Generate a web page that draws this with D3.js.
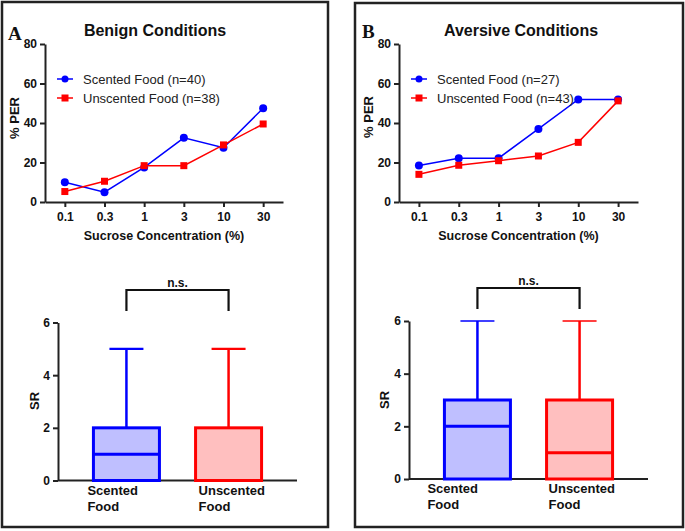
<!DOCTYPE html>
<html><head><meta charset="utf-8">
<script src="https://cdn.jsdelivr.net/npm/d3@7"></script>
<style>body{margin:0;background:#fff}svg{display:block}</style>
</head><body>
<script>
// ---------- DATA ----------
const concentrations = ["0.1","0.3","1","3","10","30"];
const benignScented   = [10, 5, 17.5, 32.5, 27.5, 47.5];
const benignUnscented = [5.3, 10.5, 18.4, 18.4, 28.9, 39.5];
const aversiveScented   = [18.5, 22.2, 22.2, 37.0, 51.9, 51.9];
const aversiveUnscented = [14.0, 18.6, 20.9, 23.3, 30.2, 51.2];
const perTicks = [0, 20, 40, 60, 80];
const srTicks = [0, 2, 4, 6];
const groups = ["Scented Food", "Unscented Food"];
const benignLegend = ["Scented Food (n=40)", "Unscented Food (n=38)"];
const aversiveLegend = ["Scented Food (n=27)", "Unscented Food (n=43)"];
// box stats: [min, q1, median, q3, max]
const benignBoxScented   = [0, 0, 1, 2, 5];
const benignBoxUnscented = [0, 0, 0, 2, 5];
const aversiveBoxScented   = [0, 0, 2, 3, 6];
const aversiveBoxUnscented = [0, 0, 1, 3, 6];

const BLUE = "#0000ff", RED = "#ff0000", INK = "#222";
const FILL = ["#bfbfff", "#ffbfbf"];
const svg = d3.select("body").append("svg").attr("width", 685).attr("height", 531);
const SANS = "'Liberation Sans', Arial, sans-serif";

function panel(cfg) {
  const g = svg.append("g");
  // frame
  g.append("rect").attr("x", cfg.frame[0]).attr("y", cfg.frame[1])
    .attr("width", cfg.frame[2]).attr("height", cfg.frame[3])
    .attr("fill", "none").attr("stroke", INK).attr("stroke-width", 2.5);
  // letter
  g.append("text").attr("x", cfg.letter[0]).attr("y", cfg.letter[1]).text(cfg.letterText)
    .attr("font-family", "'Liberation Serif', 'Times New Roman', serif").attr("font-weight", "bold")
    .attr("font-size", 19).attr("fill", "#111");
  // title
  g.append("text").attr("x", cfg.title[0]).attr("y", cfg.title[1]).text(cfg.titleText)
    .attr("text-anchor", "middle").attr("font-family", SANS).attr("font-weight", "bold")
    .attr("font-size", 16).attr("fill", "#111");

  // ---- line chart ----
  const x = d3.scalePoint().domain(concentrations).range(cfg.lx).padding(0.5);
  const y = d3.scaleLinear().domain([0, 80]).range(cfg.ly);
  const ya = g.append("g").attr("transform", `translate(${cfg.lx[0]},0)`)
    .call(d3.axisLeft(y).tickValues(perTicks).tickFormat(d3.format("d")).tickSize(5).tickPadding(3).tickSizeOuter(0));
  const xa = g.append("g").attr("transform", `translate(0,${cfg.ly[0]})`)
    .call(d3.axisBottom(x).tickSize(5).tickPadding(5).tickSizeOuter(0));
  [ya, xa].forEach(a => {
    a.select(".domain").attr("stroke", INK).attr("stroke-width", 2);
    a.selectAll(".tick line").attr("stroke", INK).attr("stroke-width", 2);
    a.selectAll("text").attr("font-family", SANS).attr("font-weight", "bold")
      .attr("font-size", 12).attr("fill", "#111");
  });
  g.append("text").attr("transform", `translate(${cfg.perLabel[0]},${cfg.perLabel[1]}) rotate(-90)`)
    .attr("text-anchor", "middle").attr("dy", "0.35em").text("% PER")
    .attr("font-family", SANS).attr("font-weight", "bold").attr("font-size", 13).attr("fill", "#111");
  g.append("text").attr("x", (cfg.lx[0] + cfg.lx[1]) / 2).attr("y", cfg.ly[0] + 38)
    .attr("text-anchor", "middle").text("Sucrose Concentration (%)")
    .attr("font-family", SANS).attr("font-weight", "bold").attr("font-size", 12.5).attr("fill", "#111");

  const line = d3.line().x((d, i) => x(concentrations[i])).y(d => y(d));
  const series = [[cfg.scented, BLUE, "circle"], [cfg.unscented, RED, "square"]];
  series.forEach(([vals, col, shape]) => {
    g.append("path").datum(vals).attr("d", line).attr("fill", "none")
      .attr("stroke", col).attr("stroke-width", 1.5);
    const m = g.selectAll(null).data(vals).enter();
    if (shape === "circle") {
      m.append("circle").attr("cx", (d, i) => x(concentrations[i])).attr("cy", d => y(d))
        .attr("r", 4).attr("fill", col);
    } else {
      m.append("rect").attr("x", (d, i) => x(concentrations[i]) - 3.5).attr("y", d => y(d) - 3.5)
        .attr("width", 7).attr("height", 7).attr("fill", col);
    }
  });
  // legend
  cfg.legendText.forEach((t, i) => {
    const ly = cfg.legend[1] + i * 19, lx = cfg.legend[0];
    const col = i === 0 ? BLUE : RED;
    g.append("line").attr("x1", lx).attr("x2", lx + 16).attr("y1", ly).attr("y2", ly)
      .attr("stroke", col).attr("stroke-width", 1.5);
    if (i === 0) g.append("circle").attr("cx", lx + 8).attr("cy", ly).attr("r", 3.5).attr("fill", col);
    else g.append("rect").attr("x", lx + 4.5).attr("y", ly - 3.5).attr("width", 7).attr("height", 7).attr("fill", col);
    g.append("text").attr("x", lx + 26).attr("y", ly).attr("dy", "0.35em").text(t)
      .attr("font-family", SANS).attr("font-size", 13).attr("fill", "#222");
  });

  // ---- box plot ----
  const bx = d3.scalePoint().domain(groups).range(cfg.bxr).padding(0.67);
  const by = d3.scaleLinear().domain([0, 6]).range(cfg.byr);
  const bw = 66;
  const bya = g.append("g").attr("transform", `translate(${cfg.bxr[0]},0)`)
    .call(d3.axisLeft(by).tickValues(srTicks).tickFormat(d3.format("d")).tickSize(5).tickPadding(3).tickSizeOuter(0));
  bya.select(".domain").attr("stroke", INK).attr("stroke-width", 2);
  bya.selectAll(".tick line").attr("stroke", INK).attr("stroke-width", 2);
  bya.selectAll("text").attr("font-family", SANS).attr("font-weight", "bold")
    .attr("font-size", 12).attr("fill", "#111");
  g.append("line").attr("x1", cfg.bxr[0]).attr("x2", cfg.bxr[1])
    .attr("y1", by(0)).attr("y2", by(0)).attr("stroke", INK).attr("stroke-width", 2);
  g.append("text").attr("transform", `translate(${cfg.srLabel[0]},${cfg.srLabel[1]}) rotate(-90)`)
    .attr("text-anchor", "middle").attr("dy", "0.35em").text("SR")
    .attr("font-family", SANS).attr("font-weight", "bold").attr("font-size", 13).attr("fill", "#111");

  [cfg.boxS, cfg.boxU].forEach((s, i) => {
    const cx = bx(groups[i]);
    const col = i === 0 ? BLUE : RED;
    const [mn, q1, md, q3, mx] = s;
    g.append("line").attr("x1", cx).attr("x2", cx).attr("y1", by(q3)).attr("y2", by(mx))
      .attr("stroke", col).attr("stroke-width", 2.5);
    g.append("line").attr("x1", cx - 17).attr("x2", cx + 17).attr("y1", by(mx)).attr("y2", by(mx))
      .attr("stroke", col).attr("stroke-width", cfg.capW);
    g.append("rect").attr("x", cx - bw / 2).attr("y", by(q3)).attr("width", bw)
      .attr("height", by(q1) - by(q3)).attr("fill", FILL[i]).attr("stroke", col).attr("stroke-width", 3);
    g.append("line").attr("x1", cx - bw / 2).attr("x2", cx + bw / 2).attr("y1", by(md)).attr("y2", by(md))
      .attr("stroke", col).attr("stroke-width", 3);
    const words = groups[i].split(" ");
    words.forEach((w, k) => {
      g.append("text").attr("x", cx + cfg.labOff[i]).attr("y", by(0) + 14 + k * 16).text(w)
        .attr("font-family", SANS).attr("font-weight", "bold").attr("font-size", 13).attr("fill", "#111");
    });
  });
  // significance bracket
  const x1 = bx(groups[0]), x2 = bx(groups[1]);
  g.append("path").attr("d", `M${x1},${cfg.br[1]}V${cfg.br[0]}H${x2}V${cfg.br[1]}`)
    .attr("fill", "none").attr("stroke", "#111").attr("stroke-width", 2.2);
  g.append("text").attr("x", (x1 + x2) / 2).attr("y", cfg.br[0] - 3).attr("text-anchor", "middle")
    .text("n.s.").attr("font-family", SANS).attr("font-weight", "bold").attr("font-size", 12).attr("fill", "#111");
}

panel({
  frame: [2, 2, 326, 525], letter: [8, 40], letterText: "A",
  title: [155, 36], titleText: "Benign Conditions",
  lx: [45, 283], ly: [202, 44], perLabel: [14, 118],
  scented: benignScented, unscented: benignUnscented,
  legend: [57, 79], legendText: benignLegend,
  bxr: [58, 297], byr: [480.5, 322.5], srLabel: [34, 401],
  boxS: benignBoxScented, boxU: benignBoxUnscented,
  labOff: [-39, -30], br: [290, 311], capW: 2.2
});
panel({
  frame: [355, 3, 328, 524], letter: [362, 38], letterText: "B",
  title: [521, 36], titleText: "Aversive Conditions",
  lx: [399, 638], ly: [202, 44], perLabel: [368, 117],
  scented: aversiveScented, unscented: aversiveUnscented,
  legend: [411, 79], legendText: aversiveLegend,
  bxr: [409, 648], byr: [479, 321], srLabel: [384, 400],
  boxS: aversiveBoxScented, boxU: aversiveBoxUnscented,
  labOff: [-50, -31], br: [288, 309], capW: 1.6
});
</script>
</body></html>
